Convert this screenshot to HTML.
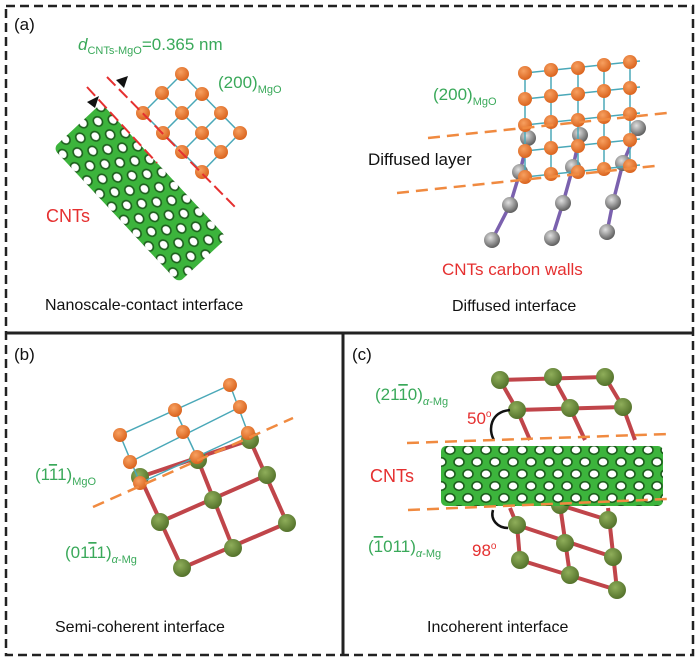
<!DOCTYPE html>
<html><head><meta charset="utf-8"><style>
html,body{margin:0;padding:0;background:#fff}
svg{display:block}
text{font-family:"Liberation Sans",Arial,sans-serif}
</style></head><body>
<svg width="700" height="662" viewBox="0 0 700 662" xmlns="http://www.w3.org/2000/svg">
<defs>
<pattern id="hex" width="18" height="24" patternUnits="userSpaceOnUse">
<rect width="18" height="24" fill="#3cb43c"/>
<ellipse cx="9" cy="6" rx="5" ry="4.3" fill="#fff" stroke="#1d5e1d" stroke-width="1.6"/>
<ellipse cx="0" cy="18" rx="5" ry="4.3" fill="#fff" stroke="#1d5e1d" stroke-width="1.6"/>
<ellipse cx="18" cy="18" rx="5" ry="4.3" fill="#fff" stroke="#1d5e1d" stroke-width="1.6"/>
</pattern>
<radialGradient id="og" cx="0.4" cy="0.35" r="0.7"><stop offset="0" stop-color="#f7a060"/><stop offset="1" stop-color="#d8601a"/></radialGradient>
<radialGradient id="gg" cx="0.4" cy="0.35" r="0.7"><stop offset="0" stop-color="#8fae5a"/><stop offset="1" stop-color="#506e28"/></radialGradient>
<radialGradient id="kg" cx="0.4" cy="0.35" r="0.7"><stop offset="0" stop-color="#e0e0e0"/><stop offset="1" stop-color="#555"/></radialGradient>
</defs>

<rect x="6" y="6" width="687" height="649" fill="none" stroke="#222" stroke-width="2.5" stroke-dasharray="9,5"/>
<line x1="6" y1="333" x2="693" y2="333" stroke="#222" stroke-width="3"/>
<line x1="343" y1="333" x2="343" y2="655" stroke="#222" stroke-width="3"/>

<!-- Panel a left -->
<text x="14" y="30" font-size="17" fill="#111">(a)</text>
<text x="78" y="50" font-size="17" fill="#3aa95a"><tspan font-style="italic">d</tspan><tspan font-size="11" dy="4">CNTs-MgO</tspan><tspan dy="-4">=0.365 nm</tspan></text>
<g transform="translate(140,193) rotate(47)">
<rect x="-92" y="-33" width="184" height="66" fill="url(#hex)" rx="6"/>
</g>
<g stroke="#4aa8b8" stroke-width="1.5">
<line x1="182" y1="74" x2="240" y2="133"/><line x1="162" y1="93" x2="221" y2="152"/><line x1="143" y1="113" x2="202" y2="172"/>
<line x1="182" y1="74" x2="143" y2="113"/><line x1="202" y1="94" x2="163" y2="133"/><line x1="221" y1="113" x2="182" y2="152"/><line x1="240" y1="133" x2="202" y2="172"/>
</g>
<g fill="url(#og)">
<circle cx="182" cy="74" r="7"/><circle cx="202" cy="94" r="7"/><circle cx="221" cy="113" r="7"/><circle cx="240" cy="133" r="7"/>
<circle cx="162" cy="93" r="7"/><circle cx="182" cy="113" r="7"/><circle cx="202" cy="133" r="7"/><circle cx="221" cy="152" r="7"/>
<circle cx="143" cy="113" r="7"/><circle cx="163" cy="133" r="7"/><circle cx="182" cy="152" r="7"/><circle cx="202" cy="172" r="7"/>
</g>
<line x1="107" y1="77" x2="238" y2="210" stroke="#e53030" stroke-width="2" stroke-dasharray="12,5"/>
<line x1="87" y1="87" x2="157" y2="163" stroke="#e53030" stroke-width="2" stroke-dasharray="12,5"/>
<polygon points="116,80 128,76 124,88" fill="#111"/>
<polygon points="87,102 99,96 95,108" fill="#111"/>
<text x="218" y="88" font-size="17" fill="#3aa95a">(200)<tspan font-size="11" dy="5">MgO</tspan></text>
<text x="46" y="222" font-size="18" fill="#e53030">CNTs</text>
<text x="45" y="310" font-size="16" fill="#111">Nanoscale-contact interface</text>

<!-- Panel a right -->
<g stroke="#5a3a9a" stroke-width="3.5" opacity="0.8">
<polyline points="528,138 520,172 510,205 492,240" fill="none"/>
<polyline points="580,135 573,167 563,203 552,238" fill="none"/>
<polyline points="638,128 623,163 613,202 607,232" fill="none"/>
</g>
<g fill="url(#kg)">
<circle cx="528" cy="138" r="8"/><circle cx="520" cy="172" r="8"/><circle cx="510" cy="205" r="8"/><circle cx="492" cy="240" r="8"/>
<circle cx="580" cy="135" r="8"/><circle cx="573" cy="167" r="8"/><circle cx="563" cy="203" r="8"/><circle cx="552" cy="238" r="8"/>
<circle cx="638" cy="128" r="8"/><circle cx="623" cy="163" r="8"/><circle cx="613" cy="202" r="8"/><circle cx="607" cy="232" r="8"/>
</g>
<g stroke="#4aa8b8" stroke-width="1.5">
<line x1="525" y1="73" x2="640" y2="61"/><line x1="525" y1="99" x2="640" y2="87"/><line x1="525" y1="125" x2="640" y2="113"/><line x1="525" y1="151" x2="640" y2="139"/><line x1="525" y1="177" x2="640" y2="165"/>
<line x1="525" y1="73" x2="525" y2="177"/><line x1="551" y1="70" x2="551" y2="174"/><line x1="578" y1="68" x2="578" y2="172"/><line x1="604" y1="65" x2="604" y2="169"/><line x1="630" y1="62" x2="630" y2="166"/>
</g>
<g fill="url(#og)">
<circle cx="525" cy="73" r="7"/><circle cx="551" cy="70" r="7"/><circle cx="578" cy="68" r="7"/><circle cx="604" cy="65" r="7"/><circle cx="630" cy="62" r="7"/>
<circle cx="525" cy="99" r="7"/><circle cx="551" cy="96" r="7"/><circle cx="578" cy="94" r="7"/><circle cx="604" cy="91" r="7"/><circle cx="630" cy="88" r="7"/>
<circle cx="525" cy="125" r="7"/><circle cx="551" cy="122" r="7"/><circle cx="578" cy="120" r="7"/><circle cx="604" cy="117" r="7"/><circle cx="630" cy="114" r="7"/>
<circle cx="525" cy="151" r="7"/><circle cx="551" cy="148" r="7"/><circle cx="578" cy="146" r="7"/><circle cx="604" cy="143" r="7"/><circle cx="630" cy="140" r="7"/>
<circle cx="525" cy="177" r="7"/><circle cx="551" cy="174" r="7"/><circle cx="578" cy="172" r="7"/><circle cx="604" cy="169" r="7"/><circle cx="630" cy="166" r="7"/>
</g>
<line x1="428" y1="138" x2="667" y2="113" stroke="#f08a40" stroke-width="2.5" stroke-dasharray="12,7"/>
<line x1="397" y1="193" x2="655" y2="166" stroke="#f08a40" stroke-width="2.5" stroke-dasharray="12,7"/>
<text x="433" y="100" font-size="17" fill="#3aa95a">(200)<tspan font-size="11" dy="5">MgO</tspan></text>
<text x="368" y="165" font-size="17" fill="#111">Diffused layer</text>
<text x="442" y="275" font-size="17" fill="#e53030">CNTs carbon walls</text>
<text x="452" y="311" font-size="16" fill="#111">Diffused interface</text>

<!-- Panel b -->
<text x="14" y="360" font-size="17" fill="#111">(b)</text>
<g stroke="#c0454a" stroke-width="4">
<line x1="140" y1="477" x2="250" y2="440"/><line x1="160" y1="522" x2="267" y2="475"/><line x1="182" y1="568" x2="287" y2="523"/>
<line x1="140" y1="477" x2="182" y2="568"/><line x1="198" y1="460" x2="233" y2="548"/><line x1="250" y1="440" x2="287" y2="523"/>
</g>
<g fill="url(#gg)">
<circle cx="140" cy="477" r="9"/><circle cx="198" cy="460" r="9"/><circle cx="250" cy="440" r="9"/>
<circle cx="160" cy="522" r="9"/><circle cx="213" cy="500" r="9"/><circle cx="267" cy="475" r="9"/>
<circle cx="182" cy="568" r="9"/><circle cx="233" cy="548" r="9"/><circle cx="287" cy="523" r="9"/>
</g>
<g stroke="#4aa8b8" stroke-width="1.5">
<line x1="120" y1="435" x2="230" y2="385"/><line x1="130" y1="462" x2="240" y2="407"/><line x1="140" y1="483" x2="248" y2="433"/>
<line x1="120" y1="435" x2="140" y2="483"/><line x1="175" y1="410" x2="197" y2="457"/><line x1="230" y1="385" x2="248" y2="433"/>
</g>
<g fill="url(#og)">
<circle cx="230" cy="385" r="7"/><circle cx="240" cy="407" r="7"/><circle cx="175" cy="410" r="7"/><circle cx="183" cy="432" r="7"/><circle cx="248" cy="433" r="7"/>
<circle cx="120" cy="435" r="7"/><circle cx="130" cy="462" r="7"/><circle cx="197" cy="457" r="7"/><circle cx="140" cy="483" r="7"/>
</g>
<line x1="93" y1="507" x2="293" y2="418" stroke="#f08a40" stroke-width="2.5" stroke-dasharray="12,7"/>
<text x="35" y="480" font-size="17" fill="#3aa95a">(1<tspan text-decoration="overline">1</tspan>1)<tspan font-size="11" dy="5">MgO</tspan></text>
<text x="65" y="558" font-size="17" fill="#3aa95a">(01<tspan text-decoration="overline">1</tspan>1)<tspan font-size="11" dy="5" font-style="italic">α</tspan><tspan font-size="11">-Mg</tspan></text>
<text x="55" y="632" font-size="16" fill="#111">Semi-coherent interface</text>

<!-- Panel c -->
<text x="352" y="360" font-size="17" fill="#111">(c)</text>
<g stroke="#c0454a" stroke-width="4">
<line x1="500" y1="380" x2="605" y2="377"/><line x1="517" y1="410" x2="623" y2="407"/>
<line x1="500" y1="380" x2="517" y2="410"/><line x1="553" y1="377" x2="570" y2="408"/><line x1="605" y1="377" x2="623" y2="407"/>
<line x1="517" y1="410" x2="530" y2="440"/><line x1="570" y1="408" x2="585" y2="440"/><line x1="623" y1="407" x2="635" y2="440"/>
<line x1="517" y1="525" x2="613" y2="557"/><line x1="520" y1="560" x2="617" y2="590"/><line x1="560" y1="505" x2="608" y2="520"/>
<line x1="517" y1="525" x2="520" y2="560"/><line x1="560" y1="505" x2="570" y2="575"/><line x1="608" y1="508" x2="617" y2="590"/>
<line x1="510" y1="508" x2="517" y2="525"/>
</g>
<g fill="url(#gg)">
<circle cx="500" cy="380" r="9"/><circle cx="553" cy="377" r="9"/><circle cx="605" cy="377" r="9"/>
<circle cx="517" cy="410" r="9"/><circle cx="570" cy="408" r="9"/><circle cx="623" cy="407" r="9"/>
<circle cx="560" cy="505" r="9"/>
<circle cx="517" cy="525" r="9"/><circle cx="565" cy="543" r="9"/><circle cx="608" cy="520" r="9"/>
<circle cx="520" cy="560" r="9"/><circle cx="570" cy="575" r="9"/><circle cx="613" cy="557" r="9"/><circle cx="617" cy="590" r="9"/>
</g>
<path d="M510,410 C490,412 488,430 494,440" fill="none" stroke="#111" stroke-width="2.5"/>
<path d="M493,510 C490,520 498,528 508,528" fill="none" stroke="#111" stroke-width="2.5"/>
<rect x="441" y="446" width="222" height="60" fill="url(#hex)" rx="5"/>
<line x1="407" y1="443" x2="668" y2="434" stroke="#f08a40" stroke-width="2.5" stroke-dasharray="12,7"/>
<line x1="408" y1="510" x2="668" y2="499" stroke="#f08a40" stroke-width="2.5" stroke-dasharray="12,7"/>
<text x="375" y="400" font-size="17" fill="#3aa95a">(21<tspan text-decoration="overline">1</tspan>0)<tspan font-size="11" dy="5" font-style="italic">α</tspan><tspan font-size="11">-Mg</tspan></text>
<text x="467" y="424" font-size="17" fill="#e53030">50<tspan font-size="10" dy="-7">o</tspan></text>
<text x="370" y="482" font-size="18" fill="#e53030">CNTs</text>
<text x="368" y="552" font-size="17" fill="#3aa95a">(<tspan text-decoration="overline">1</tspan>011)<tspan font-size="11" dy="5" font-style="italic">α</tspan><tspan font-size="11">-Mg</tspan></text>
<text x="472" y="556" font-size="17" fill="#e53030">98<tspan font-size="10" dy="-7">o</tspan></text>
<text x="427" y="632" font-size="16" fill="#111">Incoherent interface</text>
</svg>
</body></html>
